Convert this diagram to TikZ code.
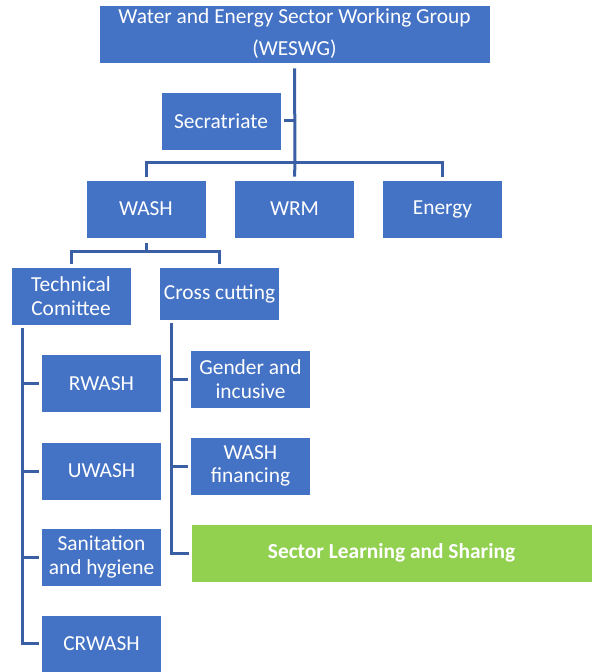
\documentclass[tikz,border=0pt]{standalone}
\usepackage{fontspec}
\setmainfont{Carlito}
\definecolor{boxblue}{HTML}{4472C4}
\definecolor{lineblue}{HTML}{3A5FA5}
\definecolor{boxgreen}{HTML}{92D050}
\tikzset{
  unit/.style={fill=boxblue, draw=white, line width=0.4pt, text=white, align=center,
    minimum width=60pt, minimum height=29pt, inner sep=1pt,
    font=\fontsize{10.7}{11.8}\selectfont},
  conn/.style={draw=lineblue, line width=1.5pt},
}
\begin{document}
\begin{tikzpicture}[x=0.5pt, y=-0.5pt]
\useasboundingbox (0,0) rectangle (592,672);

% top level
\node[unit, minimum width=195.5pt] (weswg) at (294.5,34) {Water and Energy Sector Working Group\\[4.2pt](WESWG)};
\node[unit] (sec) at (221,121) {Secratriate};
\node[unit] (wash) at (146,209) {WASH};
\node[unit] (wrm) at (294.5,209) {WRM};
\node[unit] (energy) at (442.5,209) {Energy};

\coordinate (bar1) at (295,163);
\draw[conn] ([yshift=-2.5pt]weswg.south) -- (bar1);
\draw[conn] ([xshift=1.5pt]sec.east) -- (sec.east -| bar1);
\draw[conn] ([yshift=1.5pt]wash.north) |- (bar1) -| ([yshift=1.5pt]energy.north);
\draw[conn] (bar1) -- ([yshift=1.5pt]wrm.north);

% WASH
\node[unit] (tech) at (71,296) {Technical\\Comittee};
\node[unit, minimum height=26.5pt] (cross) at (219.5,293.5) {Cross cutting};

\coordinate (bar2) at (146,252);
\draw[conn] ([yshift=-2.5pt]wash.south) -- (bar2);
\draw[conn] ([yshift=1.5pt]tech.north) |- (bar2) -| ([yshift=1.5pt]cross.north);

% technical comittee
\node[unit] (rwash) at (101.5,383.5) {RWASH};
\node[unit] (uwash) at (101.5,471) {UWASH};
\node[unit] (sanit) at (101.5,557) {Sanitation\\and hygiene};
\node[unit, minimum height=28.5pt] (crwash) at (101.5,643.5) {CRWASH};

\coordinate (spine1) at (22,328);
\draw[conn] (spine1) |- ([xshift=-1pt]crwash.west);
\foreach \n in {rwash, uwash, sanit}
  \draw[conn] (spine1 |- \n.west) -- ([xshift=-1pt]\n.west);

% cross cutting
\node[unit] (gender) at (250.5,379) {Gender and\\incusive};
\node[unit] (wfin) at (250.5,466) {WASH\\financing};
\node[unit, fill=boxgreen, minimum width=200.5pt, font=\fontsize{10.7}{11.8}\selectfont\bfseries] (learn) at (391.5,553) {Sector Learning and Sharing};

\coordinate (spine2) at (171,323);
\draw[conn] (spine2) |- ([xshift=-1pt]learn.west);
\foreach \n in {gender, wfin}
  \draw[conn] (spine2 |- \n.west) -- ([xshift=-1pt]\n.west);

\end{tikzpicture}
\end{document}
